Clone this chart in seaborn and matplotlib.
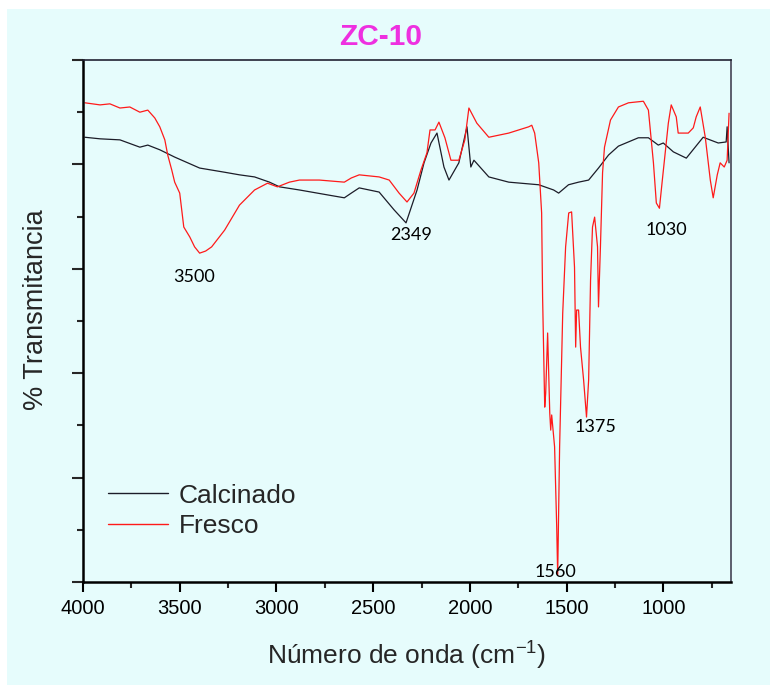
import matplotlib
matplotlib.use("Agg")
import matplotlib.pyplot as plt
from matplotlib.patches import Rectangle
from matplotlib.ticker import MultipleLocator
import numpy as np
import pandas as pd
import seaborn as sns

# FTIR spectra of sample ZC-10 (wavenumber in cm-1, transmittance in arbitrary %)
fresco_wn = [3990, 3912, 3861, 3809, 3758, 3706, 3665, 3629, 3603, 3577, 3562, 3541,
             3526, 3500, 3479, 3448, 3423, 3397, 3366, 3335, 3268, 3191, 3113, 3046,
             2995, 2933, 2881, 2778, 2649, 2613, 2572, 2469, 2417, 2366, 2325, 2289,
             2253, 2222, 2206, 2180, 2160, 2129, 2098, 2057, 2026, 2005, 1964, 1902,
             1799, 1696, 1680, 1665, 1644, 1629, 1624, 1613, 1608, 1598, 1587, 1582,
             1577, 1562, 1551, 1546, 1536, 1520, 1505, 1489, 1474, 1459, 1453, 1448,
             1438, 1428, 1412, 1397, 1386, 1376, 1366, 1355, 1340, 1335, 1325, 1314,
             1304, 1273, 1232, 1180, 1103, 1077, 1051, 1036, 1020, 1005, 974, 959,
             933, 923, 871, 845, 830, 809, 783, 757, 742, 721, 706, 685, 670, 660]
fresco_t = [91.8, 91.4, 91.6, 90.8, 91.0, 90.0, 90.4, 88.9, 87.2, 84.7, 81.8, 78.9,
            76.6, 74.5, 68.0, 66.1, 64.2, 63.0, 63.4, 64.2, 67.4, 72.2, 75.1, 76.4,
            75.7, 76.6, 77.0, 77.0, 76.6, 77.4, 78.0, 77.6, 77.0, 74.5, 72.8, 74.5,
            78.9, 82.2, 86.6, 86.6, 88.1, 85.1, 80.8, 80.8, 84.7, 90.8, 87.9, 85.2,
            86.0, 87.2, 87.5, 86.0, 80.3, 70.7, 54.6, 33.5, 36.2, 47.7, 32.4, 29.1,
            32.0, 25.9, 10.5, 1.3, 25.9, 51.5, 64.2, 70.7, 70.9, 60.3, 45.0, 52.1,
            52.1, 45.0, 38.7, 31.6, 38.7, 57.9, 68.0, 69.9, 64.2, 52.7, 64.2, 78.4,
            83.3, 88.5, 91.0, 91.8, 92.1, 90.4, 80.3, 72.6, 71.6, 77.0, 87.9, 91.4,
            89.1, 86.0, 86.0, 87.0, 89.1, 91.0, 85.2, 77.0, 73.6, 78.0, 80.3, 79.5,
            80.8, 89.8]

calc_wn = [3990, 3912, 3809, 3706, 3665, 3603, 3526, 3397, 3268, 3191, 3113, 3036,
           2984, 2881, 2727, 2649, 2613, 2572, 2469, 2392, 2330, 2273, 2237, 2201,
           2170, 2134, 2108, 2057, 2015, 1995, 1979, 1902, 1799, 1644, 1567, 1541,
           1490, 1438, 1386, 1335, 1283, 1232, 1129, 1077, 1026, 1000, 948, 881,
           794, 716, 675, 670, 660]
calc_t = [85.2, 84.9, 84.7, 83.3, 83.7, 82.8, 81.4, 79.3, 78.5, 78.0, 77.6, 76.6,
          75.7, 75.1, 74.1, 73.6, 74.5, 75.5, 74.7, 71.3, 68.8, 75.1, 80.3, 84.1,
          86.0, 79.5, 77.0, 80.3, 87.2, 79.5, 80.8, 77.6, 76.6, 76.1, 75.1, 74.5,
          76.1, 76.6, 77.0, 79.3, 81.8, 83.5, 85.1, 85.1, 83.7, 84.1, 82.4, 81.2,
          85.2, 84.1, 84.3, 87.2, 80.3]

series_names = ["Calcinado", "Fresco"]
series_colors = ["#1c1c28", "#ff1a1a"]

# Band labels: text and position (wavenumber, transmittance)
peak_text = ["3500", "2349", "1030", "1375", "1560"]
peak_wn = [3428, 2304, 984, 1350, 1557]
peak_t = [58.4, 66.5, 67.4, 29.7, 1.9]

x_ticks = [4000, 3500, 3000, 2500, 2000, 1500, 1000]

bg = "#e6fcfc"

sns.set_style("ticks")
plt.rcParams["font.family"] = ["Liberation Sans", "DejaVu Sans"]

df = pd.concat([
    pd.DataFrame({"wn": calc_wn, "T": calc_t, "muestra": series_names[0]}),
    pd.DataFrame({"wn": fresco_wn, "T": fresco_t, "muestra": series_names[1]}),
], ignore_index=True)

fig = plt.figure(figsize=(7.7, 6.85), dpi=100, facecolor="white")
fig.patches.append(Rectangle((7 / 770, 0), 1 - 7 / 770, (685 - 9) / 685,
                             transform=fig.transFigure, facecolor=bg,
                             edgecolor="none", zorder=-10))

ax = fig.add_axes([83 / 770, 103 / 685, 648 / 770, 522 / 685])
ax.set_facecolor(bg)

sns.lineplot(data=df, x="wn", y="T", hue="muestra", hue_order=series_names,
             palette=dict(zip(series_names, series_colors)), estimator=None,
             sort=False, linewidth=0.9, ax=ax)

ax.set_xlim(4000, 650)
ax.set_ylim(0, 100)
ax.set_xticks(x_ticks)
ax.set_xticklabels([str(v) for v in x_ticks])
ax.xaxis.set_minor_locator(MultipleLocator(250))
ax.set_yticks(np.arange(0, 101, 20))
ax.yaxis.set_minor_locator(MultipleLocator(10))
ax.set_yticklabels([])

ax.tick_params(axis="x", which="major", direction="out", length=7.5, width=1.5,
               labelsize=14.5, pad=5, colors="black")
ax.tick_params(axis="x", which="minor", direction="out", length=4.5, width=1.5)
ax.tick_params(axis="y", which="major", direction="out", length=8, width=1.5)
ax.tick_params(axis="y", which="minor", direction="out", length=4.5, width=1.5)
ax.tick_params(top=False, right=False, which="both")

for side in ["left", "bottom"]:
    ax.spines[side].set_linewidth(1.8)
    ax.spines[side].set_color("black")
ax.spines["top"].set_linewidth(1.2)
ax.spines["top"].set_color("#222233")
ax.spines["right"].set_linewidth(1.2)
ax.spines["right"].set_color("#444455")

ax.set_xlabel("Número de onda (cm$^{\\mathregular{-1}}$)", fontsize=19)
ax.xaxis.set_label_coords(0.5, -0.108)
ax.set_ylabel("% Transmitancia", fontsize=19.5)
ax.yaxis.set_label_coords(-0.052, 0.521)

for txt, wx, ty in zip(peak_text, peak_wn, peak_t):
    ax.text(wx, ty, txt, ha="center", va="center", fontsize=13,
            family=["Lato", "DejaVu Sans"], color="black")

leg = ax.legend(loc="center left", bbox_to_anchor=(0.038, 0.136), frameon=False,
                fontsize=19, handlelength=2.3, handletextpad=0.4,
                labelspacing=0.25, borderpad=0, borderaxespad=0, title=None)
for line in leg.get_lines():
    line.set_linewidth(1.0)

fig.text(0.494, 0.946, "ZC-10", ha="center", va="center", fontsize=21.5,
         fontweight="bold", color="#ee30e0")

fig.savefig("out.png", dpi=100, facecolor=fig.get_facecolor())
